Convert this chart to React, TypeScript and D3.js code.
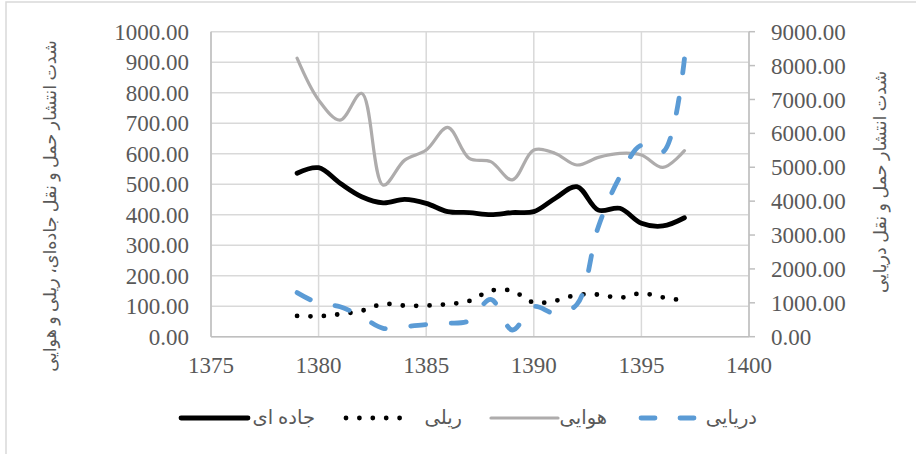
import React, { useEffect, useRef } from "react";
import * as d3 from "d3";

const years = [
  1379, 1380, 1381, 1382, 1383, 1384, 1385, 1386, 1387, 1388, 1389, 1390,
  1391, 1392, 1393, 1394, 1395, 1396, 1397,
];
const road = [
  536, 554, 503, 459, 439, 450, 437, 410, 407, 400, 407, 410, 454, 492, 415,
  421, 372, 363, 390,
];
const rail = [
  68, 67, 74, 85, 107, 102, 102, 107, 117, 151, 150, 112, 118, 137, 138, 128,
  142, 129, 118,
];
const air = [
  913, 776, 710, 798, 497, 579, 612, 686, 585, 574, 514, 612, 601, 563, 588,
  601, 596, 555, 610,
];
const sea = [
  1300, 985, 885, 590, 248, 295, 360, 395, 472, 1103, 198, 885, 690, 950, 3246,
  4721, 5650, 5450, 8200,
];

const xTicks = [1375, 1380, 1385, 1390, 1395, 1400];
const leftTicks = [0, 100, 200, 300, 400, 500, 600, 700, 800, 900, 1000];
const rightTicks = [0, 1000, 2000, 3000, 4000, 5000, 6000, 7000, 8000, 9000];

const leftTitle = "شدت انتشار حمل و نقل جاده‌ای، ریلی و هوایی";
const rightTitle = "شدت انتشار حمل و نقل دریایی";

const legendItems = [
  { name: "جاده ای", key: "road" },
  { name: "ریلی", key: "rail" },
  { name: "هوایی", key: "air" },
  { name: "دریایی", key: "sea" },
];

const W = 916;
const H = 454;
const plot = { left: 211, right: 749, top: 31.7, bottom: 336.7 };

const styles: Record<string, any> = {
  road: { stroke: "#000", width: 4.8, dash: null },
  rail: { stroke: "#000", width: 4.8, dash: "0 13.4" },
  air: { stroke: "#aeacac", width: 3.2, dash: null },
  sea: { stroke: "#5b9bd5", width: 4.8, dash: "15 27" },
};

export default function App() {
  const seaRef = useRef<SVGPathElement>(null);

  const x = d3.scaleLinear().domain([1375, 1400]).range([plot.left, plot.right]);
  const yL = d3.scaleLinear().domain([0, 1000]).range([plot.bottom, plot.top]);
  const yR = d3.scaleLinear().domain([0, 9000]).range([plot.bottom, plot.top]);

  const lineL = d3
    .line<number>()
    .x((_, i) => x(years[i]))
    .y((d) => yL(d))
    .curve(d3.curveCatmullRom.alpha(0.5));
  const lineR = d3
    .line<number>()
    .x((_, i) => x(years[i]))
    .y((d) => yR(d))
    .curve(d3.curveCatmullRom.alpha(0.5));

  // stretch the dash period a little so the sea line starts and ends on a dash
  useEffect(() => {
    const p = seaRef.current;
    if (!p) return;
    const L = p.getTotalLength();
    const n = Math.max(1, Math.round((L - 15) / 42));
    const period = (L - 15) / n;
    p.setAttribute("stroke-dasharray", `15 ${period - 15}`);
  }, []);

  const series = [
    { key: "road", d: lineL(road) },
    { key: "rail", d: lineL(rail) },
    { key: "air", d: lineL(air) },
    { key: "sea", d: lineR(sea) },
  ];

  const numFont = { fontFamily: "Liberation Serif" };
  const faFont = { fontFamily: "Liberation Serif, DejaVu Sans" };
  const textColor = "#595959";

  // legend layout (line start x, line length, text right x)
  const legendPos = [
    { lx: 181, lw: 67, tx: 315 },
    { lx: 346, lw: 54, tx: 462 },
    { lx: 491, lw: 67, tx: 607 },
    { lx: 641, lw: 54, tx: 757 },
  ];
  const legendY = 418;

  return (
    <svg
      width={W}
      height={H}
      style={{ position: "absolute", left: 0, top: 0, background: "#fff" }}
    >
      <rect x={6} y={2} width={W + 20} height={H + 20} fill="#fff" stroke="#d9d9d9" strokeWidth={1.5} />

      {/* grid */}
      {leftTicks.map((t) => (
        <line key={"h" + t} x1={plot.left} x2={plot.right} y1={yL(t)} y2={yL(t)} stroke="#d9d9d9" strokeWidth={1.5} />
      ))}
      {xTicks.map((t) => (
        <line key={"v" + t} x1={x(t)} x2={x(t)} y1={plot.top} y2={plot.bottom} stroke="#d9d9d9" strokeWidth={1.5} />
      ))}

      {/* axes */}
      <line x1={plot.left} x2={plot.left} y1={plot.top} y2={plot.bottom} stroke="#bfbfbf" strokeWidth={1.5} />
      <line x1={plot.left} x2={plot.right} y1={plot.bottom} y2={plot.bottom} stroke="#bfbfbf" strokeWidth={1.5} />
      <line x1={plot.right} x2={plot.right} y1={plot.top} y2={plot.bottom} stroke="#bfbfbf" strokeWidth={1.5} />
      {rightTicks.map((t) => (
        <line key={"rt" + t} x1={plot.right} x2={plot.right + 6} y1={yR(t)} y2={yR(t)} stroke="#bfbfbf" strokeWidth={1.5} />
      ))}

      {/* tick labels */}
      {leftTicks.map((t) => (
        <text key={"lt" + t} x={189} y={yL(t)} dy="0.35em" textAnchor="end" style={numFont} fontSize={23} fill={textColor}>
          {t.toFixed(2)}
        </text>
      ))}
      {rightTicks.map((t) => (
        <text key={"rl" + t} x={771} y={yR(t)} dy="0.35em" textAnchor="start" style={numFont} fontSize={23} fill={textColor}>
          {t.toFixed(2)}
        </text>
      ))}
      {xTicks.map((t) => (
        <text key={"xl" + t} x={x(t)} y={365} dy="0.35em" textAnchor="middle" style={numFont} fontSize={23} fill={textColor}>
          {t}
        </text>
      ))}

      {/* axis titles */}
      <text
        transform={`translate(50,206) rotate(-90)`}
        textAnchor="middle"
        dy="0.35em"
        style={faFont}
        fontSize={17.5}
        fill={textColor}
        direction="rtl"
      >
        {leftTitle}
      </text>
      <text
        transform={`translate(880,182) rotate(-90)`}
        textAnchor="middle"
        dy="0.35em"
        style={faFont}
        fontSize={17.5}
        fill={textColor}
        direction="rtl"
      >
        {rightTitle}
      </text>

      {/* series */}
      {series.map((s) => {
        const st = styles[s.key];
        return (
          <path
            key={s.key}
            ref={s.key === "sea" ? seaRef : undefined}
            d={s.d || ""}
            fill="none"
            stroke={st.stroke}
            strokeWidth={st.width}
            strokeLinecap="round"
            strokeLinejoin="round"
            strokeDasharray={st.dash || undefined}
          />
        );
      })}

      {/* legend */}
      {legendItems.map((item, i) => {
        const st = styles[item.key];
        const p = legendPos[i];
        return (
          <g key={item.key}>
            <line
              x1={p.lx}
              x2={p.lx + p.lw}
              y1={legendY}
              y2={legendY}
              stroke={st.stroke}
              strokeWidth={st.width}
              strokeLinecap="round"
              strokeDasharray={item.key === "sea" ? "14 25" : st.dash || undefined}
            />
            <text x={p.tx} y={legendY} dy="0.3em" textAnchor="end" style={faFont} fontSize={19.5} fill={textColor}>
              {item.name}
            </text>
          </g>
        );
      })}
    </svg>
  );
}
